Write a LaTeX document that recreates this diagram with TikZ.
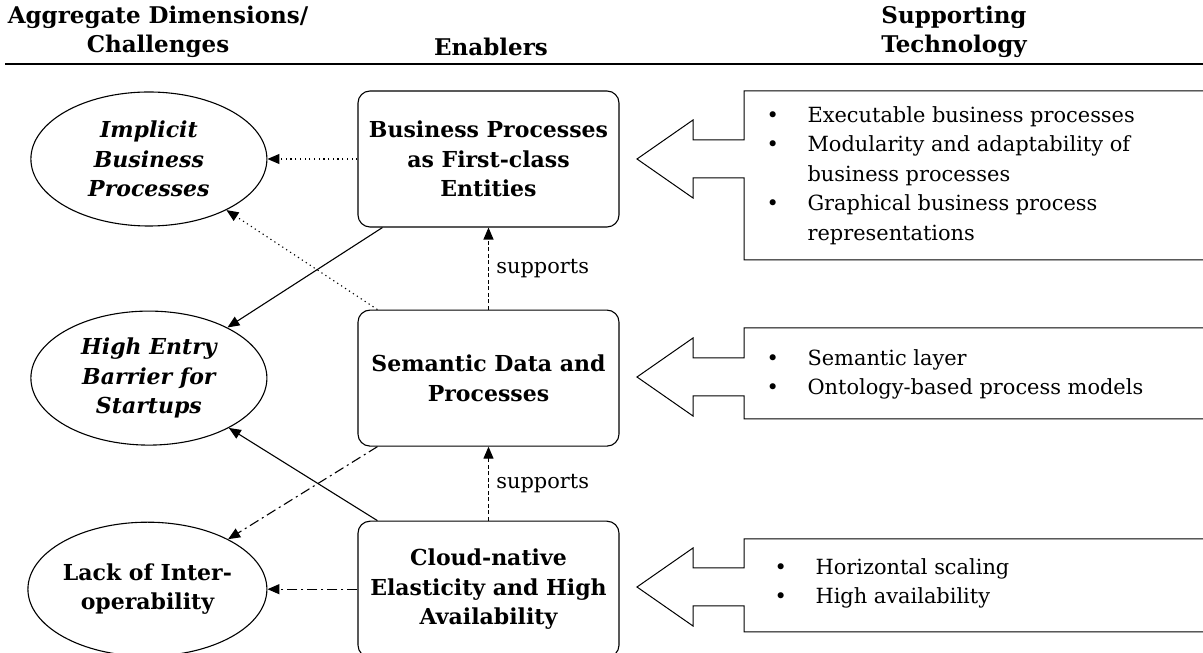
\documentclass[tikz,border=0pt]{standalone}
\usepackage{fontspec}
\setmainfont{DejaVu Serif}
\usetikzlibrary{arrows.meta,positioning,shapes.geometric}

% outline of a technology box with its arrow: top, bottom, arrow height
\newcommand{\techshape}[3]{%
  \draw[techline] (1210,#1) -- (744,#1) -- (744,#3+19) -- (693,#3+19) -- (693,#3+39)
    -- (637,#3) -- (693,#3-39) -- (693,#3-19) -- (744,#3-19) -- (744,#2) -- (1210,#2);}

\begin{document}
\begin{tikzpicture}[x=1pt,y=1pt,node distance=90pt,line width=1.1pt,
    >={Triangle[length=12pt,width=10pt]},
    every node/.style={font=\fontsize{20.9}{29.5}\selectfont},
    heading/.style={font=\fontsize{23}{29.5}\selectfont\bfseries,align=center},
    enabler/.style={draw,rounded corners=12pt,minimum width=261pt,minimum height=136pt,
      align=center,font=\fontsize{22}{29.5}\selectfont\bfseries},
    challenge/.style={draw,ellipse,inner sep=0pt,minimum width=236pt,minimum height=134pt,
      align=center,font=\fontsize{22}{29.5}\selectfont\bfseries},
    techline/.style={line width=1pt},
    techtext/.style={anchor=west,inner sep=0pt,align=left},
    supports/.style={dashed,dash pattern=on 4pt off 2.5pt},
    dotline/.style={dash pattern=on 1.2pt off 3.5pt},
    dashdot/.style={dash pattern=on 10pt off 4pt on 2pt off 4pt}]
    \useasboundingbox (0,0) rectangle (1203,653);

    % column headings
    \node[heading] (hchal) at (158,621) {Aggregate Dimensions/\\Challenges};
    \node[heading] (henab) at (491,606) {Enablers};
    \node[heading] (htech) at (954,621) {Supporting\\Technology};
    \draw[line width=1.5pt] (5,589) -- (1203,589);

    % enablers
    \node[enabler] (bpe) at (488.5,494) {Business Processes\\as First-class\\Entities};
    \node[enabler] (sem) [below=82pt of bpe] {Semantic Data and\\Processes};
    \node[enabler] (cloud) [below=74pt of sem] {Cloud-native\\Elasticity and High\\Availability};

    % challenges
    \node[challenge] (impl) [left=of bpe] {\itshape Implicit\\\itshape Business\\\itshape Processes};
    \node[challenge] (entry) [left=of sem] {\itshape High Entry\\\itshape Barrier for\\\itshape Startups};
    \node[challenge] (interop) [left=of cloud] {Lack of Inter-\\operability};

    % supporting technology
    \techshape{562}{393}{494}
    \techshape{325}{234}{276}
    \techshape{114}{21}{66}
    \node[techtext] (tech1) at (766,477.5) {\begin{tabular}{@{}p{41pt}@{}l@{}}
      \textbullet & Executable business processes\\
      \textbullet & Modularity and adaptability of\\
                  & business processes\\
      \textbullet & Graphical business process\\
                  & representations
    \end{tabular}};
    \node[techtext] (tech2) at (766,279) {\begin{tabular}{@{}p{41pt}@{}l@{}}
      \textbullet & Semantic layer\\
      \textbullet & Ontology-based process models
    \end{tabular}};
    \node[techtext] (tech3) at (774,70) {\begin{tabular}{@{}p{41pt}@{}l@{}}
      \textbullet & Horizontal scaling\\
      \textbullet & High availability
    \end{tabular}};

    % connectors
    \path[->]
    (bpe) edge [dotline] (impl)
    ([xshift=25pt]bpe.south west) edge (entry)
    ([xshift=20pt]sem.north west) edge [dotline] (impl)
    ([xshift=20pt]sem.south west) edge [dashdot] (interop)
    ([xshift=20pt]cloud.north west) edge (entry)
    (cloud) edge [dashdot] (interop)
    (sem) edge [supports] node [right=4pt] {supports} (bpe)
    (cloud) edge [supports] node [right=4pt] {supports} (sem);
\end{tikzpicture}
\end{document}
